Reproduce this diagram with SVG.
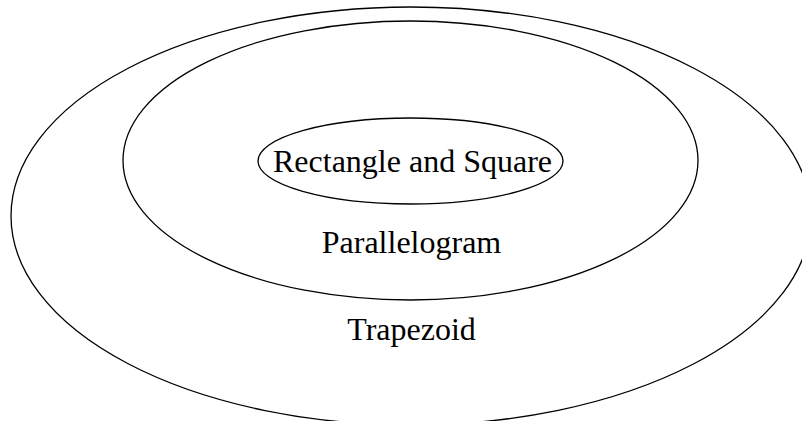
<svg xmlns="http://www.w3.org/2000/svg" width="802" height="421" viewBox="0 0 802 421">
<style>
.e{fill:none;stroke:#000;stroke-width:1.3}
.t{font-family:"Liberation Serif","Times New Roman",serif;font-size:32px;fill:#000;text-anchor:middle}
</style>
<rect width="802" height="421" fill="#fff"/>
<g id="trapezoid">
<ellipse class="e" cx="411" cy="216" rx="400" ry="209"/>
<text class="t" x="411.5" y="340">Trapezoid</text>
</g>
<g id="parallelogram">
<ellipse class="e" cx="410.5" cy="160.5" rx="287.5" ry="139.5"/>
<text class="t" x="411.5" y="253">Parallelogram</text>
</g>
<g id="rectangle">
<ellipse class="e" cx="410.5" cy="161" rx="152.5" ry="43"/>
<text class="t" x="412.5" y="172">Rectangle and Square</text>
</g>
<g id="connectors"/>
</svg>
